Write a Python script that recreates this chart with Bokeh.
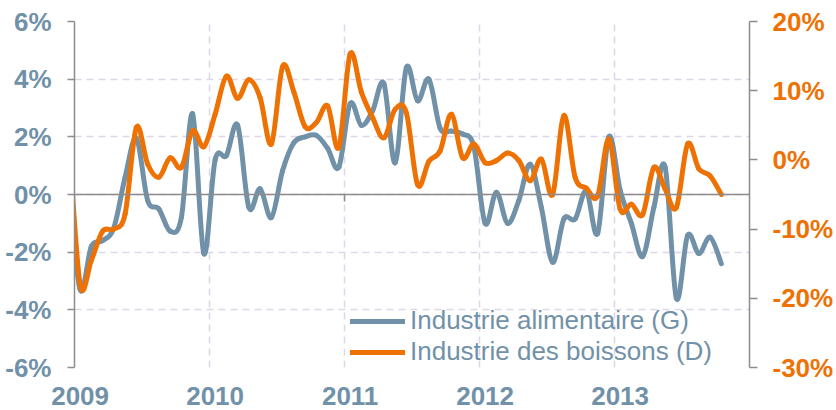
import numpy as np
from bokeh.plotting import figure
from bokeh.models import (Range1d, LinearAxis, FixedTicker, PrintfTickFormatter,
                          Legend, LegendItem, ColumnDataSource, Span)
from bokeh.embed import file_html
from bokeh.resources import INLINE

# ---------------- data ----------------
years = ["2009", "2010", "2011", "2012", "2013"]
left_ticks = [-6, -4, -2, 0, 2, 4, 6]
right_ticks = [-30, -20, -10, 0, 10, 20]

# monthly values, Dec 2008 .. Oct 2013 (%)
food = [0.3, -3.3, -1.8, -1.6, -1.15, 0.6, 1.95, -0.2, -0.5, -1.27, -0.8, 2.8, -2.05,
        1.2, 1.35, 2.4, -0.45, 0.2, -0.8, 0.83, 1.8, 2.0, 2.05, 1.6, 0.95,
        3.15, 2.4, 2.9, 3.85, 1.1, 4.4, 3.25, 4.0, 2.3, 2.2, 2.1, 1.65,
        -1.0, 0.08, -1.0, -0.2, 1.05, -0.45, -2.35, -0.85, -0.85, 0.12, -1.35, 2.0,
        0.15, -1.0, -2.15, -0.45, 0.95, -3.6, -1.42, -2.05, -1.48, -2.4]
drinks = [3.0, -18.0, -14.5, -10.3, -10.0, -7.8, 4.7, -0.6, -2.5, 0.3, -1.1, 4.2, 1.9,
          6.6, 12.1, 8.9, 11.6, 9.0, 2.3, 13.5, 9.8, 4.8, 5.4, 7.8, 1.8,
          15.3, 9.8, 6.1, 3.2, 7.3, 6.8, -3.6, -0.2, 1.3, 6.6, 0.3, 2.3,
          -0.4, -0.1, 1.0, -0.1, -3.0, 0.1, -5.0, 6.4, -2.5, -4.1, -5.2, 3.0,
          -7.1, -6.4, -7.9, -1.1, -4.2, -6.9, 2.3, -1.3, -2.3, -5.0]
labels = ["Industrie alimentaire (G)", "Industrie des boissons (D)"]

# ---------------- style ----------------
BLUE = "#7191a8"
ORANGE = "#ee7203"
GRID = "#ddd7e8"
AXIS = "#8c8c8c"
FONT = "Liberation Sans"

n = len(food)
months = np.arange(n) - 0.5          # months since Jan 2009 (mid-month positions)
year_starts = [12 * k for k in range(len(years) + 1)]
label_pos = [12 * k + 0.5 for k in range(len(years))]


def smooth_source(xs, ys):
    xs = np.asarray(xs, float)
    ys = np.asarray(ys, float)
    xp = np.concatenate([[xs[0]], xs, [xs[-1]]])
    yp = np.concatenate([[ys[0]], ys, [ys[-1]]])
    m = len(xs)
    return ColumnDataSource(dict(
        x0=xs[:-1], y0=ys[:-1], x1=xs[1:], y1=ys[1:],
        cx0=xs[:-1] + (xp[2:m + 1] - xp[0:m - 1]) / 6.0,
        cy0=ys[:-1] + (yp[2:m + 1] - yp[0:m - 1]) / 6.0,
        cx1=xs[1:] - (xp[3:m + 2] - xp[1:m]) / 6.0,
        cy1=ys[1:] - (yp[3:m + 2] - yp[1:m]) / 6.0,
    ))


p = figure(width=836, height=410,
           x_range=Range1d(0, 60), y_range=Range1d(-6, 6),
           output_backend="svg", toolbar_location=None,
           min_border_left=74, min_border_right=86,
           min_border_top=21, min_border_bottom=43,
           outline_line_color=None, background_fill_color="white",
           border_fill_color="white")
p.extra_y_ranges = {"right": Range1d(-30, 20)}

# grids
p.ygrid.ticker = FixedTicker(ticks=left_ticks)
p.ygrid.grid_line_color = GRID
p.ygrid.grid_line_dash = "7 5"
p.ygrid.grid_line_width = 1.5
p.xgrid.ticker = FixedTicker(ticks=year_starts[1:-1])
p.xgrid.grid_line_color = GRID
p.xgrid.grid_line_dash = "7 5"
p.xgrid.grid_line_width = 1.5

# left axis
ya = p.yaxis[0]
ya.ticker = FixedTicker(ticks=left_ticks)
ya.formatter = PrintfTickFormatter(format="%d%%")
ya.axis_line_color = AXIS
ya.axis_line_width = 1.5
ya.major_tick_line_color = AXIS
ya.major_tick_line_width = 1.5
ya.major_tick_out = 7
ya.major_tick_in = 0
ya.minor_tick_line_color = None
ya.major_label_standoff = 16
ya.major_label_text_font = FONT
ya.major_label_text_font_style = "bold"
ya.major_label_text_font_size = "26px"
ya.major_label_text_color = BLUE

# right axis
ra = LinearAxis(y_range_name="right", ticker=FixedTicker(ticks=right_ticks),
                formatter=PrintfTickFormatter(format="%d%%"))
ra.axis_line_color = AXIS
ra.axis_line_width = 1.5
ra.major_tick_line_color = AXIS
ra.major_tick_line_width = 1.5
ra.major_tick_out = 8
ra.major_tick_in = 0
ra.minor_tick_line_color = None
ra.major_label_standoff = 15
ra.major_label_text_font = FONT
ra.major_label_text_font_style = "bold"
ra.major_label_text_font_size = "26px"
ra.major_label_text_color = ORANGE
p.add_layout(ra, "right")

# bottom axis (year labels)
xa = p.xaxis[0]
xa.ticker = FixedTicker(ticks=label_pos)
xa.major_label_overrides = {pos: yr for pos, yr in zip(label_pos, years)}
xa.axis_line_color = None
xa.major_tick_line_color = None
xa.minor_tick_line_color = None
xa.major_tick_out = 0
xa.major_tick_in = 0
xa.major_label_standoff = 19
xa.major_label_text_font = FONT
xa.major_label_text_font_style = "bold"
xa.major_label_text_font_size = "26px"
xa.major_label_text_color = BLUE

# zero line with year ticks
p.add_layout(Span(location=0, dimension="width", line_color=AXIS, line_width=1.5))
p.ray(x=year_starts[1:-1], y=[0] * (len(year_starts) - 2), length=7, length_units="screen",
      angle=-np.pi / 2, line_color=AXIS, line_width=1.5)

# series (smoothed)
r_food = p.bezier(x0="x0", y0="y0", x1="x1", y1="y1", cx0="cx0", cy0="cy0",
                  cx1="cx1", cy1="cy1", source=smooth_source(months, food),
                  line_color=BLUE, line_width=5, line_cap="round")
r_drinks = p.bezier(x0="x0", y0="y0", x1="x1", y1="y1", cx0="cx0", cy0="cy0",
                    cx1="cx1", cy1="cy1", source=smooth_source(months, drinks),
                    line_color=ORANGE, line_width=5, line_cap="round",
                    y_range_name="right")

legend = Legend(items=[LegendItem(label=labels[0], renderers=[r_food]),
                       LegendItem(label=labels[1], renderers=[r_drinks])],
                location=(276, 0))
legend.background_fill_alpha = 0
legend.border_line_alpha = 0
legend.glyph_width = 55
legend.glyph_height = 30
legend.label_height = 30
legend.label_standoff = 5
legend.spacing = 0
legend.padding = 0
legend.margin = 0
legend.label_text_font = FONT
legend.label_text_font_size = "26px"
legend.label_text_color = BLUE
p.add_layout(legend)

open("out.html", "w").write(file_html(p, INLINE))
